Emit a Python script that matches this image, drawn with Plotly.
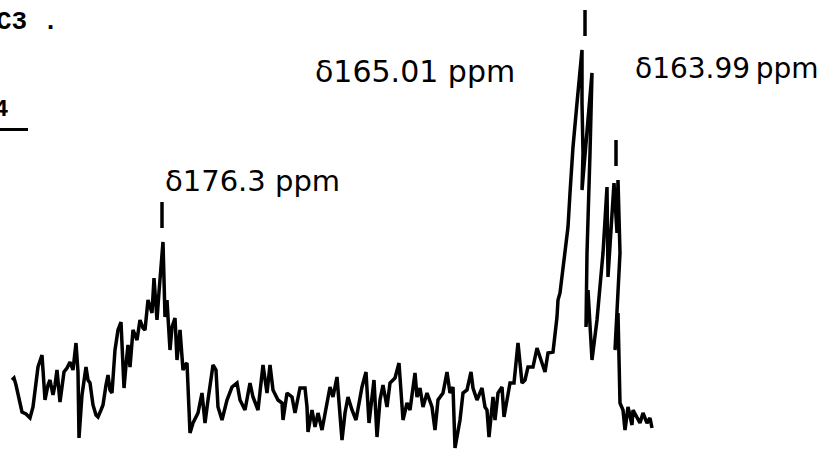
import plotly.graph_objects as go

# Recorder trace of the carbonyl region (chart position vs. pen deflection)
pos = [
    12, 14, 16, 19, 22, 26, 30, 33, 36, 38,
    42, 45, 48, 50, 53, 55, 57, 60, 64, 67,
    70, 73, 76, 78, 79, 82, 86, 88, 90, 93,
    96, 98, 101, 103, 106, 108, 110, 112, 115, 118,
    121, 124, 126, 128, 130, 133, 137, 140, 143, 145,
    148, 152, 154, 157, 159, 161, 163, 165, 167, 168,
    170, 172, 175, 177, 180, 183, 185, 187, 188, 190,
    193, 198, 202, 205, 208, 213, 216, 218, 222, 227,
    232, 237, 240, 245, 250, 253, 258, 263, 267, 270,
    273, 278, 282, 283, 287, 292, 295, 300, 305, 307,
    308, 312, 315, 318, 322, 327, 330, 333, 337, 342,
    345, 348, 352, 356, 362, 366, 369, 374, 377, 380,
    383, 387, 390, 395, 399, 403, 407, 410, 415, 417,
    420, 423, 427, 432, 435, 438, 443, 447, 450, 453,
    455, 460, 463, 467, 471, 473, 477, 482, 485, 487,
    489, 493, 495, 498, 502, 504, 507, 510, 514, 518,
    522, 525, 528, 533, 537, 541, 545, 548, 553, 557,
    558, 560, 565, 568, 570, 573, 577, 582, 582, 583,
    582, 585, 588, 592, 590, 587, 586, 588, 592, 597,
    603, 607, 608, 612, 614, 617, 618, 620, 618, 615,
    618, 620, 623, 625, 628, 632, 633, 640, 643, 647,
    650, 652,
]
signal = [
    73, 75, 68, 53, 41, 39, 35, 46, 68, 86,
    98, 53, 68, 73, 58, 68, 83, 51, 81, 85,
    91, 83, 110, 81, 15, 58, 86, 73, 70, 48,
    38, 36, 43, 48, 68, 78, 63, 60, 103, 123,
    131, 65, 88, 108, 86, 123, 113, 133, 125, 123,
    153, 140, 175, 133, 161, 183, 211, 136, 153, 136,
    103, 126, 135, 93, 123, 83, 88, 90, 66, 20,
    30, 40, 60, 30, 53, 88, 83, 46, 33, 53,
    66, 70, 53, 43, 70, 56, 43, 88, 60, 88,
    63, 53, 50, 33, 60, 56, 40, 65, 65, 46,
    21, 43, 26, 40, 23, 53, 66, 56, 76, 13,
    40, 56, 43, 33, 66, 81, 30, 73, 16, 53,
    68, 46, 70, 75, 90, 33, 50, 43, 80, 56,
    65, 46, 60, 46, 23, 53, 60, 81, 60, 66,
    5, 33, 60, 63, 81, 65, 53, 65, 46, 43,
    16, 56, 33, 60, 66, 36, 53, 70, 70, 110,
    70, 73, 86, 86, 105, 93, 81, 100, 101, 136,
    153, 160, 206, 226, 260, 306, 350, 403, 350, 300,
    263, 300, 333, 380, 300, 200, 126, 163, 93, 133,
    200, 266, 176, 233, 270, 220, 273, 200, 160, 103,
    140, 50, 43, 23, 46, 28, 43, 30, 40, 30,
    35, 25,
]

# Assigned resonances: marker position, peak height, label and label anchor
peak_pos = [162, 585, 616]
peak_top = [211, 403, 273]
peak_labels = ["δ176.3 ppm", "δ165.01 ppm", "δ163.99\u2009ppm"]
label_x = [163, 313, 633]
label_y = [272, 382, 385]
label_size = [29, 30, 28]

INK = "#000000"

fig = go.Figure()
fig.add_trace(go.Scatter(
    x=pos, y=signal, mode="lines",
    line=dict(color=INK, width=3.5),
    hoverinfo="skip", showlegend=False,
))

# short vertical pen marks above each assigned peak
for px, top in zip(peak_pos, peak_top):
    fig.add_shape(type="line", xref="x", yref="y",
                  x0=px, x1=px, y0=top + 14, y1=top + 40,
                  line=dict(color=INK, width=3.5))

for text, lx, ly, fs in zip(peak_labels, label_x, label_y, label_size):
    fig.add_annotation(x=lx, y=ly, xref="x", yref="y", text=text,
                       showarrow=False, xanchor="left", yanchor="middle",
                       font=dict(family="DejaVu Sans", size=fs, color=INK))

# typed header fragments at the left edge of the sheet
fig.add_annotation(x=-6.4 / 828, y=1 - 22 / 453, xref="paper", yref="paper",
                   text="<b>C3 .</b>", showarrow=False,
                   xanchor="left", yanchor="middle",
                   font=dict(family="Liberation Mono", size=26, color=INK))
fig.add_annotation(x=10 / 828, y=1 - 109 / 453, xref="paper", yref="paper",
                   text="<b>4</b>", showarrow=False,
                   xanchor="right", yanchor="middle",
                   font=dict(family="Liberation Mono", size=24, color=INK))
fig.add_shape(type="line", xref="paper", yref="paper",
              x0=0, x1=28 / 828, y0=1 - 129.5 / 453, y1=1 - 129.5 / 453,
              line=dict(color=INK, width=3))

fig.update_layout(
    width=828, height=453,
    margin=dict(l=0, r=0, t=0, b=0),
    paper_bgcolor="white", plot_bgcolor="white",
    xaxis=dict(range=[0, 828], visible=False, fixedrange=True),
    yaxis=dict(range=[0, 453], visible=False, fixedrange=True),
)

fig.write_html("out.html")
